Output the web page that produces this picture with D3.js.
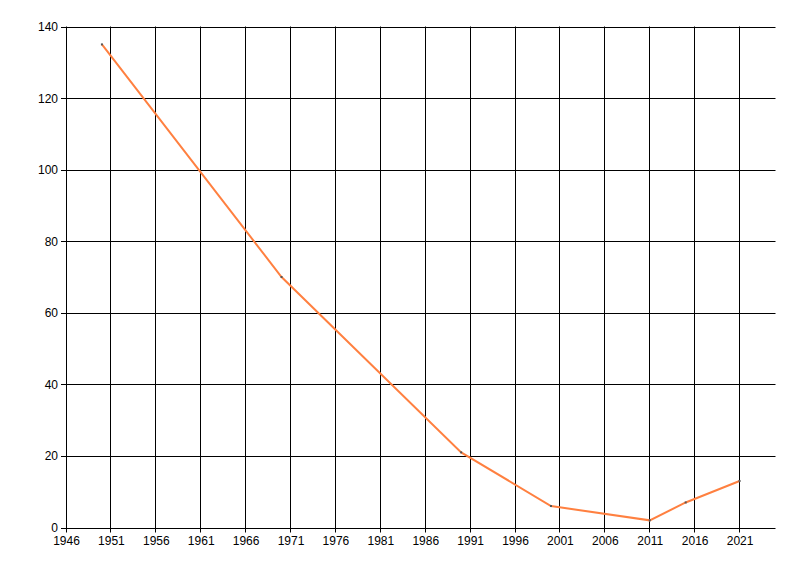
<!DOCTYPE html>
<html><head><meta charset="utf-8">
<script src="https://cdn.jsdelivr.net/npm/d3@7"></script>
<style>body{margin:0;background:#fff;} text{font-family:"Liberation Sans",Arial,sans-serif;font-size:12px;fill:#000;}</style>
</head><body>
<svg id="c" width="800" height="576"></svg>
<script>
const years = [1950, 1970, 1990, 2000, 2011, 2015, 2021];
const values = [135, 70, 21, 6, 2, 7, 13];
const xTicks = [1946, 1951, 1956, 1961, 1966, 1971, 1976, 1981, 1986, 1991, 1996, 2001, 2006, 2011, 2016, 2021];
const yTicks = [0, 20, 40, 60, 80, 100, 120, 140];

const svg = d3.select("#c");
const L = 66, R = 775.5, T = 26.5, B = 527.5;
const x = d3.scaleLinear().domain([1946, 2025]).range([L, R]);
const y = d3.scaleLinear().domain([0, 140]).range([B, T]);

const g = svg.append("g");
g.selectAll(".vg").data(xTicks).enter().append("line")
  .attr("x1", d => Math.floor(x(d)) + 0.5).attr("x2", d => Math.floor(x(d)) + 0.5)
  .attr("y1", T).attr("y2", B + 5).attr("stroke", "#000").attr("stroke-width", 1);
g.selectAll(".hg").data(yTicks).enter().append("line")
  .attr("x1", L - 5).attr("x2", R)
  .attr("y1", d => Math.round(y(d)) + 0.5).attr("y2", d => Math.round(y(d)) + 0.5)
  .attr("stroke", "#000").attr("stroke-width", 1);

g.selectAll(".xl").data(xTicks).enter().append("text")
  .attr("x", d => x(d) + 0.5).attr("y", B + 17).attr("text-anchor", "middle").text(d => d);
g.selectAll(".yl").data(yTicks).enter().append("text")
  .attr("x", L - 8).attr("y", d => y(d) + 4.5).attr("text-anchor", "end").text(d => d);

const data = years.map((d, i) => [d, values[i]]);
g.append("path").datum(data)
  .attr("d", d3.line().x(d => x(d[0])).y(d => y(d[1])))
  .attr("fill", "none").attr("stroke", "#FF8040").attr("stroke-width", 2);
g.selectAll(".pt").data(data).enter().append("rect")
  .attr("x", d => x(d[0]) - 1).attr("y", d => y(d[1]) - 1)
  .attr("width", 2).attr("height", 2).attr("fill", "#555");
</script>
</body></html>
